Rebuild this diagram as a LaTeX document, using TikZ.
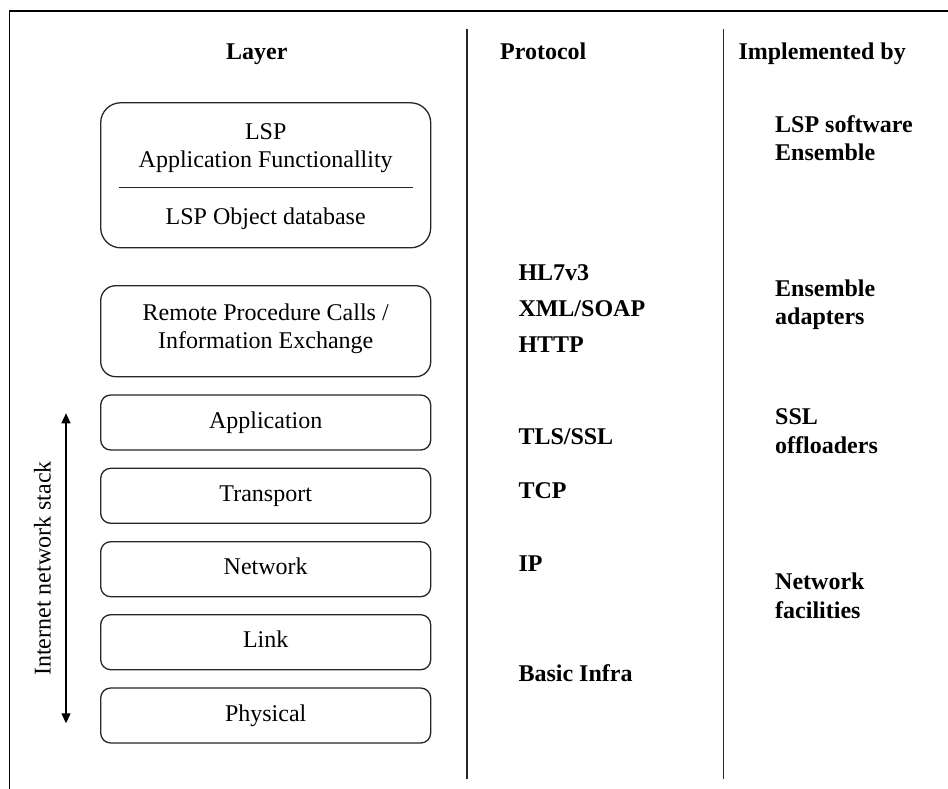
\documentclass[tikz,border=0pt]{standalone}
\usepackage{fontspec}
\setmainfont{Liberation Serif}
\usetikzlibrary{arrows.meta}
\tikzset{
  lyrbox/.style={draw=black!85, line width=1.3pt, rounded corners=10pt, minimum width=330pt, minimum height=55pt, inner sep=0pt, text height=16pt, text depth=5pt, font=\fontsize{24}{28}\selectfont},
  bigbox/.style={draw=black!85, line width=1.3pt, inner sep=0pt, minimum width=330pt},
  lbl/.style={font=\fontsize{24}{28}\selectfont, inner sep=0pt, anchor=base},
  blbl/.style={font=\fontsize{24}{28}\selectfont\bfseries, inner sep=0pt, anchor=base west},
  divider/.style={draw=black!85, line width=1.6pt},
}
\begin{document}
\begin{tikzpicture}[x=1pt,y=-1pt]
\useasboundingbox (0,0) rectangle (948,789);
% outer frame (top and left)
\coordinate (ftr) at (948,11);
\coordinate (ftl) at (9.5,11);
\coordinate (fbl) at (9.5,789);
\draw[line width=1.2pt] (ftr) -- (ftl) -- (fbl);
% column dividers
\coordinate (d1t) at (466.7,29);
\coordinate (d1b) at (466.7,779);
\coordinate (d2t) at (723.3,29);
\coordinate (d2b) at (723.3,779);
\draw[divider] (d1t) -- (d1b);
\draw[divider] (d2t) -- (d2b);
% headers
\node[blbl] (hlayer) at (226,60) {Layer};
\node[blbl] (hproto) at (500,60) {Protocol};
\node[blbl] (himpl) at (738.3,60) {Implemented by};
% LSP box
\node[bigbox, rounded corners=20pt, minimum height=145pt] (lspbox) at (265.7,175.3) {};
\node[lbl] (lsp1) at (265.7,139.3) {LSP};
\node[lbl] (lsp2) at (265.7,167.3) {Application Functionallity};
\coordinate (sepl) at (119,187.7);
\coordinate (sepr) at (412.7,187.7);
\draw[line width=1.3pt, black!85] (sepl) -- (sepr);
\node[lbl] (lsp3) at (265.7,224) {LSP Object database};
% RPC box
\node[bigbox, rounded corners=15pt, minimum height=91pt] (rpcbox) at (265.7,331.2) {};
\node[lbl] (rpc1) at (265.7,320) {Remote Procedure Calls /};
\node[lbl] (rpc2) at (265.7,348.3) {Information Exchange};
% stack boxes
\node[lyrbox] (app) at (265.7,422.5) {Application};
\node[lyrbox] (trans) at (265.7,495.8) {Transport};
\node[lyrbox] (net) at (265.7,569.2) {Network};
\node[lyrbox] (link) at (265.7,642.2) {Link};
\node[lyrbox] (phys) at (265.7,715.5) {Physical};
% stack arrow
\coordinate (arrt) at (66,413.3);
\coordinate (arrb) at (66,723.3);
\draw[line width=1.3pt, {Triangle[length=10pt,width=9pt]}-{Triangle[length=10pt,width=9pt]}] (arrt) -- (arrb);
\node[lbl, rotate=90] (stack) at (50.5,568.5) {Internet network stack};
% protocol column
\node[blbl] (p1) at (518.3,280) {HL7v3};
\node[blbl] (p2) at (518.3,316) {XML/SOAP};
\node[blbl] (p3) at (518.3,352.7) {HTTP};
\node[blbl] (p4) at (518.3,444) {TLS/SSL};
\node[blbl] (p5) at (518.3,498.3) {TCP};
\node[blbl] (p6) at (518.3,571.7) {IP};
\node[blbl] (p7) at (518.3,681.7) {Basic Infra};
% implemented-by column
\node[blbl] (i1) at (775,132.7) {LSP software};
\node[blbl] (i2) at (775,160.7) {Ensemble};
\node[blbl] (i3) at (775,296.7) {Ensemble};
\node[blbl] (i4) at (775,324.5) {adapters};
\node[blbl] (i5) at (775,424.3) {SSL};
\node[blbl] (i6) at (775,453.3) {offloaders};
\node[blbl] (i7) at (775,589.3) {Network};
\node[blbl] (i8) at (775,618.3) {facilities};
\end{tikzpicture}
\end{document}
